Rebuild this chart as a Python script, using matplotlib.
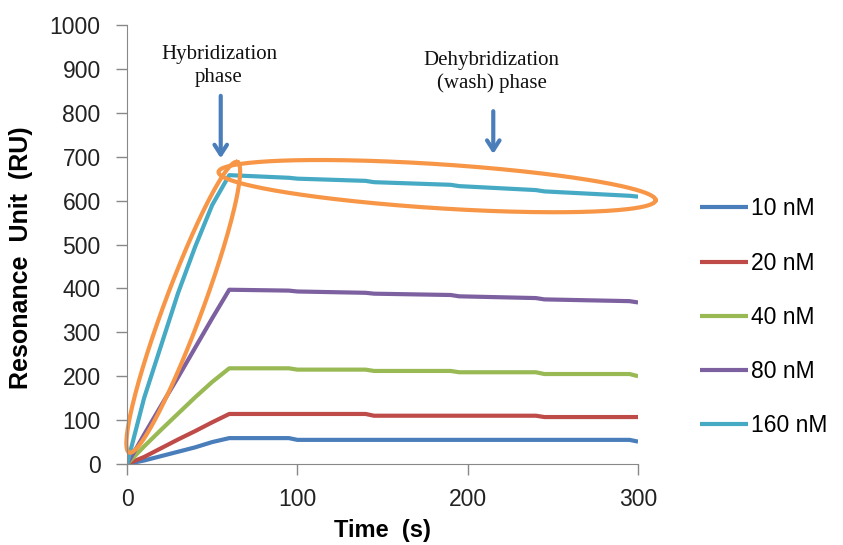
import numpy as np
import matplotlib.pyplot as plt

# sensorgram readings (time in s, response in RU)
time_s = [0, 5, 10, 20, 30, 40, 50, 60, 95, 100, 140, 145, 190, 195, 240, 245, 295, 300]
ru_10 = [0, 4, 8, 18, 28, 38, 50, 59, 59, 55, 55, 55, 55, 55, 55, 55, 55, 51]
ru_20 = [0, 8, 16, 36, 56, 75, 95, 114, 114, 114, 114, 110, 110, 110, 110, 107, 107, 107]
ru_40 = [0, 20, 40, 78, 115, 152, 187, 218, 218, 215, 215, 212, 212, 209, 209, 205, 205, 200]
ru_80 = [0, 33, 67, 133, 198, 265, 332, 397, 395, 393, 390, 388, 385, 382, 378, 375, 371, 368]
ru_160 = [0, 75, 150, 270, 390, 495, 590, 658, 652, 650, 645, 642, 636, 633, 624, 621, 611, 609]

labels = ['10 nM', '20 nM', '40 nM', '80 nM', '160 nM']
colors = ['#4A7EBB', '#BE4B48', '#98B954', '#7D60A0', '#46AAC5']
series = [ru_10, ru_20, ru_40, ru_80, ru_160]

plt.rcParams['font.family'] = ['Liberation Sans', 'DejaVu Sans']

fig = plt.figure(figsize=(8.43, 5.45), dpi=100)
ax = fig.add_axes([0.1507, 0.1486, 0.6062, 0.8055])

for vals, lab, col in zip(series, labels, colors):
    ax.plot(time_s, vals, color=col, lw=3, label=lab, solid_capstyle='butt')

ax.set_xlim(0, 300)
ax.set_ylim(0, 1000)
ax.set_xticks([0, 100, 200, 300])
ax.set_yticks(range(0, 1001, 100))
ax.tick_params(labelsize=16.5, length=8, width=1, color='#888888', labelcolor='#222222')
ax.tick_params(axis='y', pad=11)
ax.tick_params(axis='x', pad=9)
for s in ['top', 'right']:
    ax.spines[s].set_visible(False)
for s in ['left', 'bottom']:
    ax.spines[s].set_color('#888888')
ax.set_xlabel('Time  (s)', fontsize=17, fontweight='bold')
ax.set_ylabel('Resonance  Unit  (RU)', fontsize=18, fontweight='bold')
ax.xaxis.set_label_coords(0.5, -0.125)
ax.yaxis.set_label_coords(-0.184, 0.47)


# hand-drawn style ellipses, sized in pixels then mapped to data units
def ellipse(cx, cy, a, b, ang):
    sx = ax.bbox.width / 300.0
    sy = ax.bbox.height / 1000.0
    th = np.linspace(0, 2 * np.pi, 300)
    phi = np.deg2rad(ang)
    dx = a * np.cos(th) * np.cos(phi) - b * np.sin(th) * np.sin(phi)
    dy = a * np.cos(th) * np.sin(phi) + b * np.sin(th) * np.cos(phi)
    ax.plot(cx + dx / sx, cy + dy / sy, color='#F79646', lw=3, clip_on=False)

ellipse(33, 357, 155, 19, 69.6)
ellipse(182, 633, 219, 22, -3.7)

# phase annotations
serif = ['Liberation Serif', 'DejaVu Serif']
arrow = dict(arrowstyle='->,head_length=0.7,head_width=0.45', color='#4A7EBB', lw=3)
ax.annotate('', xy=(55, 690), xytext=(55, 845), annotation_clip=False, arrowprops=arrow)
ax.annotate('', xy=(215, 700), xytext=(215, 810), annotation_clip=False, arrowprops=arrow)
ax.text(54, 907, 'Hybridization\nphase', ha='center', va='center', fontsize=15,
        family=serif, linespacing=1.25, color='#111111')
ax.text(214, 893, 'Dehybridization\n(wash) phase', ha='center', va='center', fontsize=15,
        family=serif, linespacing=1.25, color='#111111')

fig.legend(loc='upper left', bbox_to_anchor=(0.8055, 0.6755), frameon=False, fontsize=16.5,
           handlelength=2.1, handletextpad=0.15, labelspacing=1.36)

plt.savefig('out.png', dpi=100)
